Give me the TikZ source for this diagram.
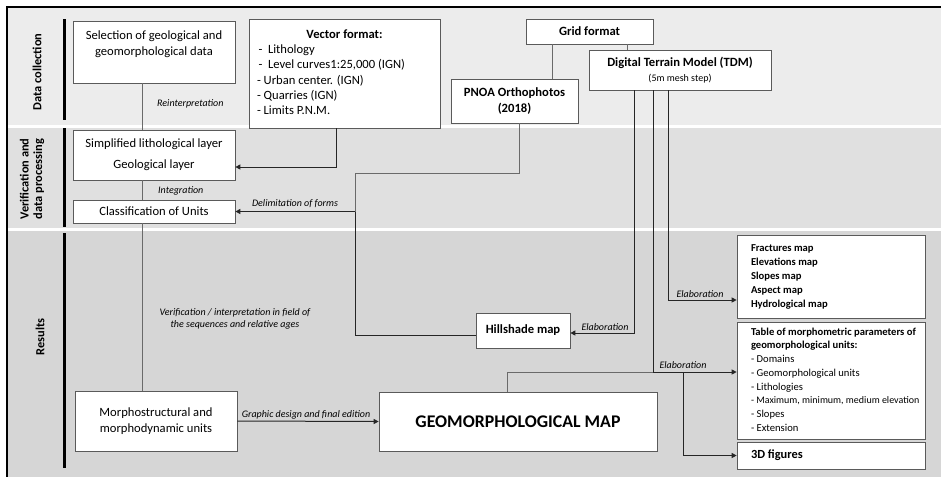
\documentclass[tikz,border=0pt]{standalone}
\usepackage{fontspec}
\setmainfont{Carlito}
\usetikzlibrary{arrows.meta,calc}
\newcommand\fsz[2]{\fontsize{#1}{#2}\selectfont}
\definecolor{bandA}{HTML}{ECECEC}
\definecolor{bandB}{HTML}{E0E0E0}
\definecolor{bandC}{HTML}{D6D6D6}
\definecolor{edge}{HTML}{5A5A5A}
\definecolor{wire}{HTML}{262626}
\definecolor{wirelight}{HTML}{6A6A6A}
\begin{document}
\begin{tikzpicture}[x=1pt,y=-1pt,
  box/.style={draw=edge, line width=0.7pt, fill=white, inner sep=0pt, font=\fsz{12.6}{15}},
  conn/.style={draw=wire, line width=1pt},
  lightconn/.style={draw=wirelight, line width=0.6pt},
  arr/.style={-{Triangle[length=5pt,width=5pt]}},
  lab/.style={font=\fsz{10}{12}\itshape, inner sep=1pt},
  bandlabel/.style={font=\fsz{12.4}{13.5}\bfseries, rotate=90, align=center, inner sep=0pt},
  bar/.style={line width=3pt, black},
]
\useasboundingbox (0,0) rectangle (941,477);
\fill[white] (0,0) rectangle (941,477);
% bands
\fill[bandA] (7,7) rectangle (941,125);
\fill[bandB] (7,127.5) rectangle (941,228);
\fill[bandC] (7,230.5) rectangle (941,477);
% frame
\draw[line width=2pt] (941,7) -- (7,7) -- (7,477);
% band labels and bars
\node[bandlabel] (lblA) at (37,72) {Data collection};
\node[bandlabel] (lblB) at (32,179) {Verification and\\data processing};
\node[bandlabel] (lblC) at (40,337) {Results};
\draw[bar] (64,19) -- (64,120);
\draw[bar] (64,128) -- (64,227);
\draw[bar] (64,233) -- (64,468);

% boxes
\node[box, minimum width=162, minimum height=62, align=center, font=\fsz{12.6}{16}] (sel) at (154,52)
  {Selection of geological and\\geomorphological data\\[2pt]};
\node[box, minimum width=191, minimum height=109, font=\fsz{12.6}{15.3}] (vec) at (344.5,73.5)
  {\makebox[175pt][l]{\begin{tabular}{@{}l@{}}
   \makebox[175pt][c]{\bfseries Vector format:}\\
   \hspace*{1.5pt}-\ \ Lithology\\
   \hspace*{1.5pt}-\ \ Level curves1:25,000 (IGN)\\
   - Urban center. (IGN)\\
   - Quarries (IGN)\\
   - Limits P.N.M.\end{tabular}}};
\node[box, minimum width=127, minimum height=25, font=\fsz{12.6}{15}\bfseries] (grid) at (589.5,31.5) {Grid format};
\node[box, minimum width=182, minimum height=40, align=center, font=\fsz{12.6}{15}\bfseries] (dtm) at (680,70)
  {Digital Terrain Model (TDM)\\{\fsz{10}{12}\mdseries (5m mesh step)}};
\node[box, minimum width=127, minimum height=44, align=center, font=\fsz{12.6}{16}\bfseries] (pnoa) at (514.5,101) {PNOA Orthophotos\\(2018)};
\node[box, minimum width=162, minimum height=50, align=center, font=\fsz{12.6}{21}] (simp) at (154,155) {Simplified lithological layer\\Geological layer};
\node[box, minimum width=162, minimum height=23] (cls) at (154,211.5) {Classification of Units};
\node[box, minimum width=94, minimum height=35, font=\fsz{12.6}{15}\bfseries] (hill) at (523,330.5) {Hillshade map};
\node[box, minimum width=188, minimum height=83, font=\fsz{10.6}{14}\bfseries] (frac) at (831,276.5)
  {\makebox[160pt][l]{\begin{tabular}{@{}l@{}}Fractures map\\Elevations map\\Slopes map\\Aspect map\\Hydrological map\end{tabular}}};
\node[box, minimum width=188, minimum height=117, font=\fsz{10.6}{13.7}] (tab) at (831,380.5)
  {\makebox[160pt][l]{\begin{tabular}{@{}l@{}}
   \bfseries Table of morphometric parameters of\\
   \bfseries geomorphological units:\\
   - Domains\\
   - Geomorphological units\\
   - Lithologies\\
   \fsz{10}{13.7}- Maximum, minimum, medium elevation\\
   - Slopes\\
   - Extension\end{tabular}}};
\node[box, minimum width=188, minimum height=27, font=\fsz{12.4}{15}\bfseries] (fig3d) at (831,455.5)
  {\makebox[160pt][l]{3D figures}};
\node[box, minimum width=162, minimum height=60, align=center, font=\fsz{12.6}{16}] (morph) at (156,421) {Morphostructural and\\morphodynamic units};
\node[box, minimum width=278, minimum height=59, font=\fsz{17.8}{20}\bfseries] (geom) at (518,421.5) {GEOMORPHOLOGICAL MAP};

% connectors: grid
\draw[lightconn] ([xshift=-37.5pt]grid.south) -- ([xshift=-37.5pt]grid.south |- pnoa.north);
\draw[lightconn] ([xshift=37.5pt]grid.south) -- ([xshift=37.5pt]grid.south |- dtm.north);

% sel -> simp -> cls -> morph
\draw[lightconn] ([xshift=70pt]sel.south west) -- ([xshift=70pt]simp.north west);
\node[lab, anchor=west] (l1) at (156,104) {Reinterpretation};
\draw[lightconn] ([xshift=70pt]simp.south west) -- ([xshift=70pt]cls.north west);
\node[lab, anchor=west] (l2) at (157,191) {Integration};
\draw[lightconn] ([xshift=70pt]cls.south west) -- ([xshift=68pt]morph.north west);
\node[lab, align=center, font=\fsz{10}{12.5}\itshape] (l3) at (235,319) {Verification / interpretation in field of\\the sequences and relative ages};

% vector -> simp
\draw[conn, arr] ([xshift=88pt]vec.south west) |- ([yshift=-12pt]simp.east);

% pnoa line and hillshade
\coordinate (jx) at (355,173);
\draw[lightconn] ([xshift=4.5pt]pnoa.south) |- (jx) -- (jx |- cls.east);
\draw[conn] (jx |- cls.east) |- ([yshift=-4.5pt]hill.west);
\draw[conn, arr] (jx |- cls.east) -- (cls.east);
\node[lab] (l4) at (295,204) {Delimitation of forms};

% morph -> geom
\draw[conn, arr] (morph.east) -- (geom.west);
\node[lab] (l5) at (306,415) {Graphic design and final edition};

% DTM lines
\coordinate (dA) at ([xshift=-46pt]dtm.south);
\coordinate (dB) at ([xshift=-27pt]dtm.south);
\coordinate (dC) at ([xshift=-12pt]dtm.south);
\coordinate (tin) at ([yshift=8.5pt]tab.west);
\draw[conn, arr] (dA) |- ([yshift=-2.5pt]hill.east);
\node[lab] (l6) at (605,327) {Elaboration};
\draw[conn, arr] (dB) |- (tin);
\node[lab] (l7) at (683,365) {Elaboration};
\draw[conn, arr] (dC) |- ([yshift=-23.5pt]frac.west);
\node[lab] (l8) at (700,294) {Elaboration};
\draw[lightconn] ([xshift=-11pt]geom.north) |- (dB |- tin);
\coordinate (split) at ($(dB |- tin)+(30,0)$);
\draw[conn, arr] (split) |- (fig3d.west);
\end{tikzpicture}
\end{document}
